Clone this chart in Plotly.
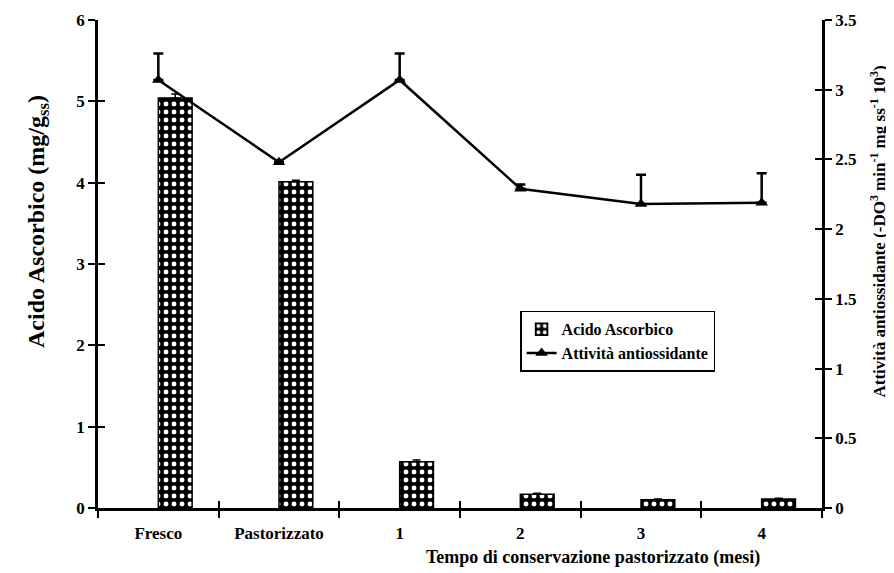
import plotly.graph_objects as go

categories = ["Fresco", "Pastorizzato", "1", "2", "3", "4"]
acido_ascorbico = [5.04, 4.01, 0.57, 0.17, 0.10, 0.11]
acido_err = [0.05, 0.02, 0.02, 0.01, 0.01, 0.01]
attivita = [3.07, 2.48, 3.07, 2.29, 2.18, 2.19]
attivita_err = [0.19, 0.0, 0.19, 0.03, 0.21, 0.21]
left_ticks = [0, 1, 2, 3, 4, 5, 6]
right_ticks = [0, 0.5, 1, 1.5, 2, 2.5, 3, 3.5]
right_ticktext = ["0", "0.5", "1", "1.5", "2", "2.5", "3", "3.5"]

xpos = list(range(len(categories)))
FONT = "Liberation Serif"

fig = go.Figure()
fig.add_trace(go.Bar(
    x=xpos, y=acido_ascorbico, name="<b>Acido Ascorbico</b>",
    width=0.28, offset=0,
    marker=dict(color="black", line=dict(color="black", width=1.5),
                pattern=dict(shape=".", bgcolor="black", fgcolor="white",
                             size=8, solidity=0.3, fillmode="replace")),
    error_y=dict(type="data", array=acido_err, arrayminus=[0]*6,
                 color="black", thickness=1.5, width=4),
    yaxis="y",
))
fig.add_trace(go.Scatter(
    x=xpos, y=attivita, name="<b>Attività antiossidante</b>",
    mode="lines+markers",
    line=dict(color="black", width=2.5),
    marker=dict(symbol="triangle-up", size=11, color="black"),
    error_y=dict(type="data", array=attivita_err, arrayminus=[0]*6,
                 color="black", thickness=2.5, width=5),
    yaxis="y2",
))

tickfont = dict(family=FONT, size=17, color="black")
fig.update_layout(
    width=886, height=565,
    margin=dict(l=90, r=72, t=12, b=65),
    plot_bgcolor="white", paper_bgcolor="white",
    font=dict(family=FONT, color="black"),
    showlegend=True,
    legend=dict(x=0.583, y=0.404, xanchor="left", yanchor="top",
                bordercolor="black", borderwidth=1.5, bgcolor="white",
                font=dict(family=FONT, size=16, color="black"),
                tracegroupgap=0, itemwidth=30),
    xaxis=dict(range=[-0.5, 5.5], tickmode="array", tickvals=xpos,
               ticktext=["<b>%s</b>" % c for c in categories],
               ticks="", showline=True, linecolor="black", linewidth=2.5,
               tickfont=dict(family=FONT, size=17, color="black"),
               ticklabelstandoff=8,
               showgrid=False, zeroline=False, automargin=False,
               minor=dict(tickmode="array", tickvals=[-0.5 + i for i in range(7)],
                          ticks="outside", ticklen=7, tickwidth=2, tickcolor="black")),
    xaxis2=dict(range=[-0.5, 5.5], overlaying="x", anchor="y",
                showline=False, showgrid=False, zeroline=False, automargin=False,
                tickmode="array", tickvals=[-0.5 + i for i in range(7)],
                ticks="inside", ticklen=7, tickwidth=2, tickcolor="black",
                showticklabels=False, side="bottom"),
    yaxis=dict(range=[0, 6], tickmode="array", tickvals=left_ticks,
               ticktext=["<b>%d</b>" % v for v in left_ticks],
               ticks="outside", ticklen=7, tickwidth=2, tickcolor="black",
               showline=True, linecolor="black", linewidth=2.5, automargin=False,
               tickfont=tickfont, showgrid=False, zeroline=False),
    yaxis3=dict(range=[0, 6], overlaying="y", side="left", anchor="x",
                tickmode="array", tickvals=left_ticks, ticks="inside", automargin=False,
                ticklen=7, tickwidth=2, tickcolor="black",
                showticklabels=False, showgrid=False, zeroline=False, showline=False),
    yaxis2=dict(range=[0, 3.5], overlaying="y", side="right", anchor="x",
                tickmode="array", tickvals=right_ticks,
                ticktext=["<b>%s</b>" % t for t in right_ticktext],
                ticks="outside", ticklen=7, tickwidth=2, tickcolor="black",
                showline=True, linecolor="black", linewidth=2.5, automargin=False,
                tickfont=tickfont, showgrid=False, zeroline=False),
    yaxis4=dict(range=[0, 3.5], overlaying="y", side="right", anchor="x",
                tickmode="array", tickvals=right_ticks, ticks="inside", automargin=False,
                ticklen=7, tickwidth=2, tickcolor="black",
                showticklabels=False, showgrid=False, zeroline=False, showline=False),
    annotations=[
        dict(text="<b>Tempo di conservazione pastorizzato (mesi)</b>",
             xref="paper", yref="paper", x=0.684, y=-0.102,
             xanchor="center", yanchor="middle", showarrow=False,
             font=dict(family=FONT, size=18, color="black")),
        dict(text="<b>Acido Ascorbico (mg/g<sub>ss</sub>)</b>",
             xref="paper", yref="paper", x=-0.083, y=0.588,
             xanchor="center", yanchor="middle", showarrow=False, textangle=-90,
             font=dict(family=FONT, size=24, color="black")),
        dict(text="<b>Attività antiossidante (-DO<sup>3</sup> min<sup>-1</sup> mg ss<sup>-1</sup> 10<sup>3</sup>)</b>",
             xref="paper", yref="paper", x=1.077, y=0.566,
             xanchor="center", yanchor="middle", showarrow=False, textangle=-90,
             font=dict(family=FONT, size=17, color="black")),
    ],
)
# dummy traces to activate the overlay axes used for crossing ticks
fig.add_trace(go.Scatter(x=[None], y=[None], xaxis="x2", yaxis="y3", showlegend=False, hoverinfo="skip"))
fig.add_trace(go.Scatter(x=[None], y=[None], xaxis="x", yaxis="y4", showlegend=False, hoverinfo="skip"))

fig.write_html("out.html")
